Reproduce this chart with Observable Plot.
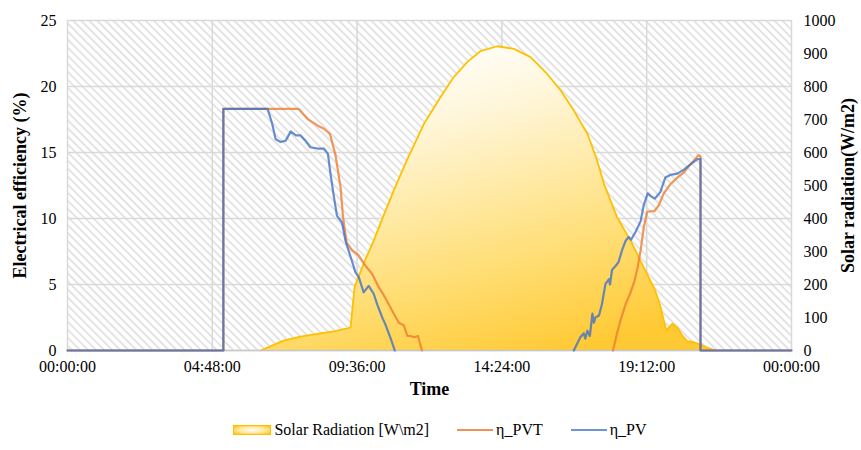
<!DOCTYPE html>
<html>
<head>
<meta charset="utf-8">
<script src="https://cdn.jsdelivr.net/npm/d3@7"></script>
<script src="https://cdn.jsdelivr.net/npm/@observablehq/plot@0.6"></script>
<style>
  html, body { margin: 0; padding: 0; background: #fff; }
  body { font-family: "Liberation Serif", "Times New Roman", serif; width: 861px; }
  #legend { display: flex; justify-content: center; align-items: center; height: 40px; font-size: 16px; color: #000; padding-left: 19px; }
  .item { display: flex; align-items: center; margin: 0 14px; }
  .sw-area { width: 36px; height: 8px; border: 1px solid #FFC000; background: radial-gradient(ellipse at center, #ffffff 0%, #ffe699 55%, #ffc000 100%); margin-right: 3px; }
  .sw-line { width: 36px; height: 2px; margin-right: 3px; }
  #chart svg text { font-family: "Liberation Serif", "Times New Roman", serif; }
</style>
</head>
<body>
<svg width="0" height="0" style="position:absolute">
  <defs>
    <pattern id="hatch" width="5.7" height="5.7" patternUnits="userSpaceOnUse" patternTransform="rotate(-45)">
      <rect width="5.7" height="5.7" fill="#ffffff"/>
      <line x1="2.85" y1="-1" x2="2.85" y2="6.7" stroke="#d3d3d3" stroke-width="1.2"/>
    </pattern>
    <linearGradient id="solarGrad" x1="0.3" y1="0" x2="0.7" y2="1">
      <stop offset="0" stop-color="#ffffff"/>
      <stop offset="0.25" stop-color="#fff6d9"/>
      <stop offset="0.7" stop-color="#ffde75"/>
      <stop offset="1" stop-color="#ffc933"/>
    </linearGradient>
  </defs>
</svg>
<div id="chart"></div>
<div id="legend">
  <div class="item"><div class="sw-area"></div><span>Solar Radiation [W\m2]</span></div>
  <div class="item"><div class="sw-line" style="background:#F0915A"></div><span>η_PVT</span></div>
  <div class="item"><div class="sw-line" style="background:#6E93D6"></div><span>η_PV</span></div>
</div>
<script>
// ---- axis ticks ----
const tickHours = [0, 4.8, 9.6, 14.4, 19.2, 24];
const tickLabels = ["00:00:00", "04:48:00", "09:36:00", "14:24:00", "19:12:00", "00:00:00"];
const effTicks = [0, 5, 10, 15, 20, 25];
const radTicks = [0, 100, 200, 300, 400, 500, 600, 700, 800, 900, 1000];
const RAD_PER_EFF = 40; // 1000 W/m2 on right axis <-> 25 % on left axis

// ---- titles ----
const yLeftTitle = "Electrical efficiency (%)";
const yRightTitle = "Solar radiation(W/m2)";
const xTitle = "Time";

// ---- Solar radiation (W/m2) ----
const radTimes = ["06:24","07:10","07:43","08:23","08:50","09:23","09:31","09:49","10:09","10:29",
  "10:49","11:16","11:49","12:22","12:48","13:15","13:41","14:15","14:48","15:21",
  "15:54","16:21","16:47","17:14","17:33","17:47","18:13","18:40","19:06","19:29",
  "19:39","19:46","19:51","20:03","20:13","20:23","20:33","20:46","20:59","21:12","21:29"];
const radValues = [0,30,42,52,58,69,192,263,333,410,
  485,580,687,768,828,874,907,922,914,889,
  838,788,727,657,578,505,404,333,252,182,
  135,91,61,81,70,45,28,25,18,9,0];

// ---- η_PVT (%) ; null = no value ----
const pvtTimes = ["00:00","05:10","05:10","07:40","07:57","08:17","08:30","08:42","08:53","09:03",
  "09:08","09:15","09:26","09:39","09:53","10:06","10:19","10:32","10:46","10:59",
  "11:09","11:16","11:22","11:30","11:37","11:42","11:45","14:00","18:05","18:13",
  "18:20","18:30","18:40","18:48","18:54","19:00","19:06","19:13","19:20","19:27",
  "19:36","19:46","19:59","20:13","20:26","20:39","20:55","20:59","20:59","24:00"];
const pvtValues = [0,0,18.3,18.3,17.55,17.05,16.8,16.4,14.8,12.4,
  10.1,8.2,7.6,7.2,6.4,5.8,4.8,4.0,3.0,2.1,
  1.9,1.1,1.1,1.0,1.1,0.4,0,null,0,1.3,
  2.3,3.5,4.4,5.3,6.3,7.6,9.3,10.5,10.55,10.55,
  11.0,11.9,12.6,13.1,13.5,14.1,14.8,14.7,0,0];

// ---- η_PV (%) ; null = no value ----
const pvTimes = ["00:00","05:10","05:10","06:38","06:47","06:54","07:04","07:14","07:24","07:34",
  "07:43","07:53","08:03","08:17","08:30","08:38","08:43","08:50","08:56","09:06",
  "09:13","09:23","09:33","09:39","09:49","09:59","10:09","10:16","10:26","10:32",
  "10:42","10:51","12:00","16:47","17:00","17:07","17:10","17:14","17:19","17:24",
  "17:27","17:30","17:37","17:43","17:50","17:57","17:59","18:03","18:10","18:16",
  "18:23","18:30","18:36","18:41","18:50","19:00","19:06","19:14","19:20","19:28",
  "19:39","19:49","19:59","20:13","20:26","20:39","20:53","20:59","20:59","24:00"];
const pvValues = [0,0,18.3,18.3,17.2,16.0,15.8,15.9,16.6,16.3,
  16.3,15.9,15.4,15.3,15.3,14.9,13.4,11.6,10.2,9.7,
  8.3,7.1,5.9,5.6,4.4,4.9,4.3,3.5,2.5,2.0,
  1.0,0,null,0,1.0,1.3,0.9,1.5,1.1,2.8,
  2.1,2.5,2.65,3.5,5.05,5.4,5.0,6.1,6.4,6.7,
  7.6,8.3,8.6,8.4,9.0,9.8,11.0,11.9,11.7,11.5,
  12.0,13.1,13.3,13.4,13.7,14.1,14.5,14.5,0,0];

const toH = s => { const [h, m] = s.split(":").map(Number); return h + m / 60; };
const build = (ts, vs, k = 1) => ts.map((t, i) => ({ t: toH(t), v: vs[i] == null ? NaN : vs[i] / k }));
const rad = build(radTimes, radValues, RAD_PER_EFF);
const pvt = build(pvtTimes, pvtValues);
const pv = build(pvTimes, pvValues);

const FONT = '"Liberation Serif", "Times New Roman", serif';
const gridStyle = { stroke: "#d9d9d9", strokeOpacity: 1, strokeWidth: 1.5 };

const chart = Plot.plot({
  width: 861,
  height: 410,
  marginLeft: 67,
  marginRight: 70,
  marginTop: 20,
  marginBottom: 60,
  x: { domain: [0, 24] },
  y: { domain: [0, 25] },
  style: { fontFamily: FONT, fontSize: "16px", color: "#000", background: "#fff", overflow: "visible" },
  marks: [
    Plot.frame({ fill: "url(#hatch)", stroke: "none" }),
    Plot.gridX(tickHours, gridStyle),
    Plot.gridY(effTicks, gridStyle),
    Plot.areaY(rad, { x: "t", y: "v", fill: "url(#solarGrad)" }),
    Plot.line(rad, { x: "t", y: "v", stroke: "#FFC000", strokeWidth: 1.8 }),
    Plot.ruleY([0], { stroke: "#c8c8c8", strokeWidth: 1.5 }),
    Plot.line(pvt, { x: "t", y: "v", stroke: "#ED7D31", strokeOpacity: 0.8, strokeWidth: 2.2 }),
    Plot.line(pv, { x: "t", y: "v", stroke: "#4472C4", strokeOpacity: 0.8, strokeWidth: 2.2 }),
    Plot.axisX(tickHours, { tickSize: 0, tickPadding: 10, tickFormat: d => tickLabels[tickHours.indexOf(d)], label: null, fontSize: 16, fontFamily: FONT }),
    Plot.axisY(effTicks, { anchor: "left", tickSize: 0, tickPadding: 11, label: null, fontSize: 16, fontFamily: FONT }),
    Plot.axisY(radTicks.map(r => r / RAD_PER_EFF), { anchor: "right", tickSize: 0, tickPadding: 12, tickFormat: d => String(Math.round(d * RAD_PER_EFF)), label: null, fontSize: 16, fontFamily: FONT }),
    Plot.text([yLeftTitle], { frameAnchor: "left", dx: -47, rotate: -90, textAnchor: "middle", lineAnchor: "middle", fontWeight: "bold", fontSize: 18, fontFamily: FONT }),
    Plot.text([yRightTitle], { frameAnchor: "right", dx: 57, rotate: -90, textAnchor: "middle", lineAnchor: "middle", fontWeight: "bold", fontSize: 18, fontFamily: FONT }),
    Plot.text([xTitle], { frameAnchor: "bottom", dy: 39, textAnchor: "middle", lineAnchor: "middle", fontWeight: "bold", fontSize: 18, fontFamily: FONT })
  ]
});
document.getElementById("chart").appendChild(chart);
</script>
</body>
</html>
